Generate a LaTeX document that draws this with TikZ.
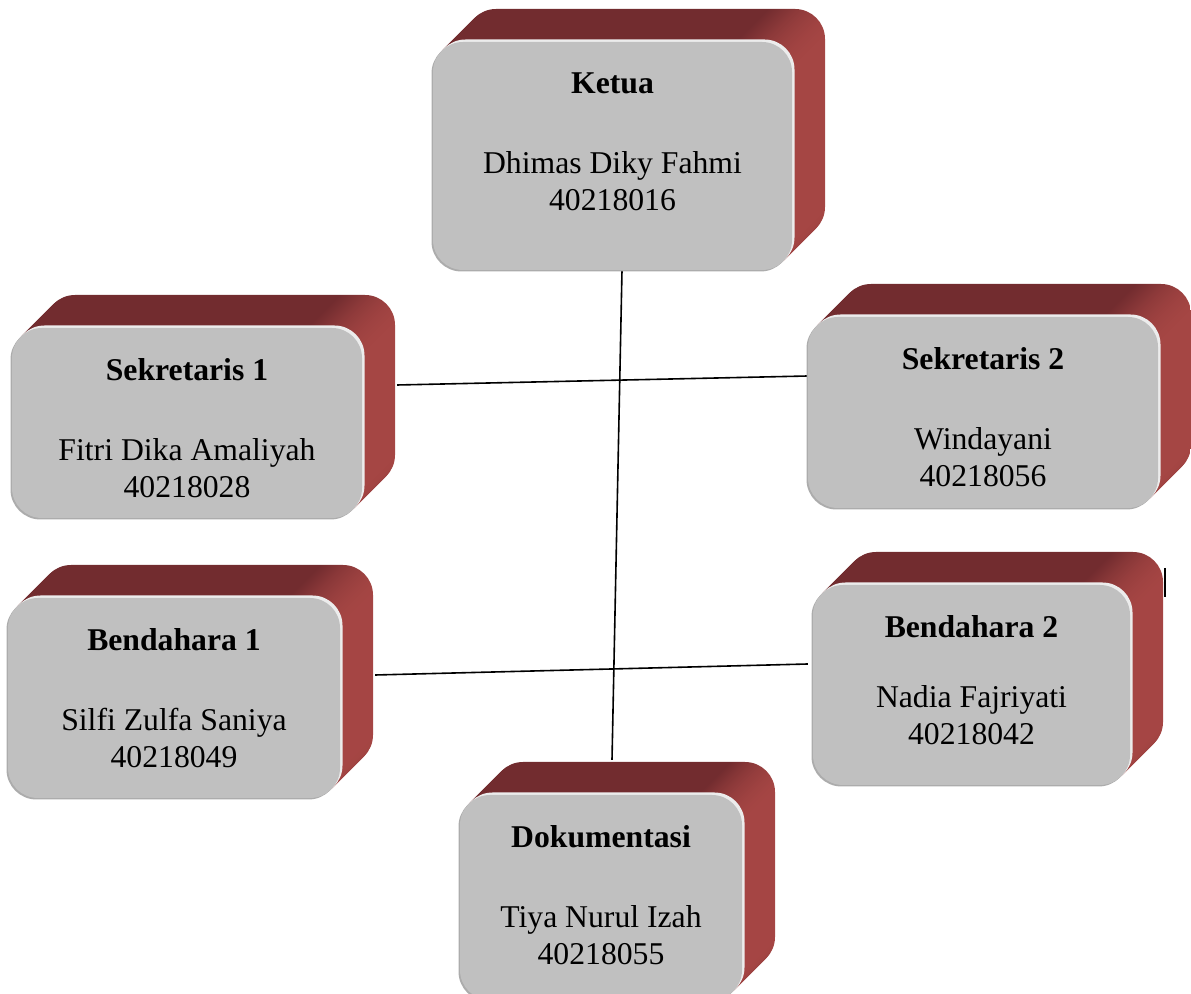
\documentclass[tikz,border=0pt]{standalone}
\usepackage{fontspec}
\setmainfont{Liberation Serif}
\usetikzlibrary{positioning,shadows,backgrounds}
\definecolor{facegray}{RGB}{192,192,192}
\definecolor{redtop}{RGB}{114,44,47}
\definecolor{redright}{RGB}{166,70,68}
\definecolor{bevellight}{RGB}{236,236,236}
\definecolor{beveldark}{RGB}{172,172,172}
\pgfdeclarehorizontalshading{redside}{100bp}{color(0bp)=(redtop); color(67bp)=(redtop); color(75bp)=(redright); color(100bp)=(redright)}
\begin{document}
\begin{tikzpicture}[x=1pt,y=1pt,
        extrude/.style={general shadow={shadow xshift=#1pt,shadow yshift=#1pt,shade,shading=redside}},
        facebox/.style={rounded corners=30pt, fill=facegray, inner sep=0pt,
            extrude/.list={33,32,...,1},
            general shadow={shadow xshift=2.5pt,shadow yshift=2.5pt,fill=bevellight},
            general shadow={shadow xshift=-1.5pt,shadow yshift=-1.5pt,fill=beveldark}},
        boxtext/.style={align=center, inner sep=0pt, font=\fontsize{31.7}{37}\selectfont},
        link/.style={line width=1.6pt}]
        \useasboundingbox (0,0) rectangle (1191,993);

        \node[facebox, minimum width=359pt, minimum height=228pt] (ketua) at (612.5,837) {};
        \node[facebox, minimum width=350pt, minimum height=190pt] (sekre1) at (187,570) {};
        \node[facebox, minimum width=350pt, minimum height=191pt] (sekre2) at (983,580.5) {};
        \node[facebox, minimum width=332pt, minimum height=200pt] (benda1) at (174,295) {};
        \node[facebox, minimum width=317pt, minimum height=200pt] (benda2) at (971.5,308) {};
        \node[facebox, minimum width=282pt, minimum height=205pt] (doku) at (601,95.5) {};

        \node[boxtext, below=31pt of ketua.north] (ketua-t) {\textbf{Ketua}\\[43pt]Dhimas Diky Fahmi\\40218016};
        \node[boxtext, below=31pt of sekre1.north] (sekre1-t) {\textbf{Sekretaris 1}\\[43pt]Fitri Dika Amaliyah\\40218028};
        \node[boxtext, below=31pt of sekre2.north] (sekre2-t) {\textbf{Sekretaris 2}\\[43pt]Windayani\\40218056};
        \node[boxtext, below=31pt of benda1.north] (benda1-t) {\textbf{Bendahara 1}\\[43pt]Silfi Zulfa Saniya\\40218049};
        \node[boxtext, below=31pt of benda2.north] (benda2-t) {\textbf{Bendahara 2}\\[33pt]Nadia Fajriyati\\40218042};
        \node[boxtext, below=31pt of doku.north] (doku-t) {\textbf{Dokumentasi}\\[43pt]Tiya Nurul Izah\\40218055};

        \coordinate (tick-a) at (1165,425);
        \coordinate (tick-b) at (1165,396);

        \begin{scope}[on background layer]
        \draw[link] ([xshift=9.5pt]ketua.south) -- ([xshift=11pt,yshift=35pt]doku.north);
        \draw[link] ([xshift=35pt,yshift=38pt]sekre1.east) -- ([yshift=36.5pt]sekre2.west);
        \draw[link] ([xshift=35pt,yshift=23pt]benda1.east) -- ([xshift=-5pt,yshift=21pt]benda2.west);
        \end{scope}
        \draw[line width=1.3pt] (tick-a) -- (tick-b);
\end{tikzpicture}
\end{document}
